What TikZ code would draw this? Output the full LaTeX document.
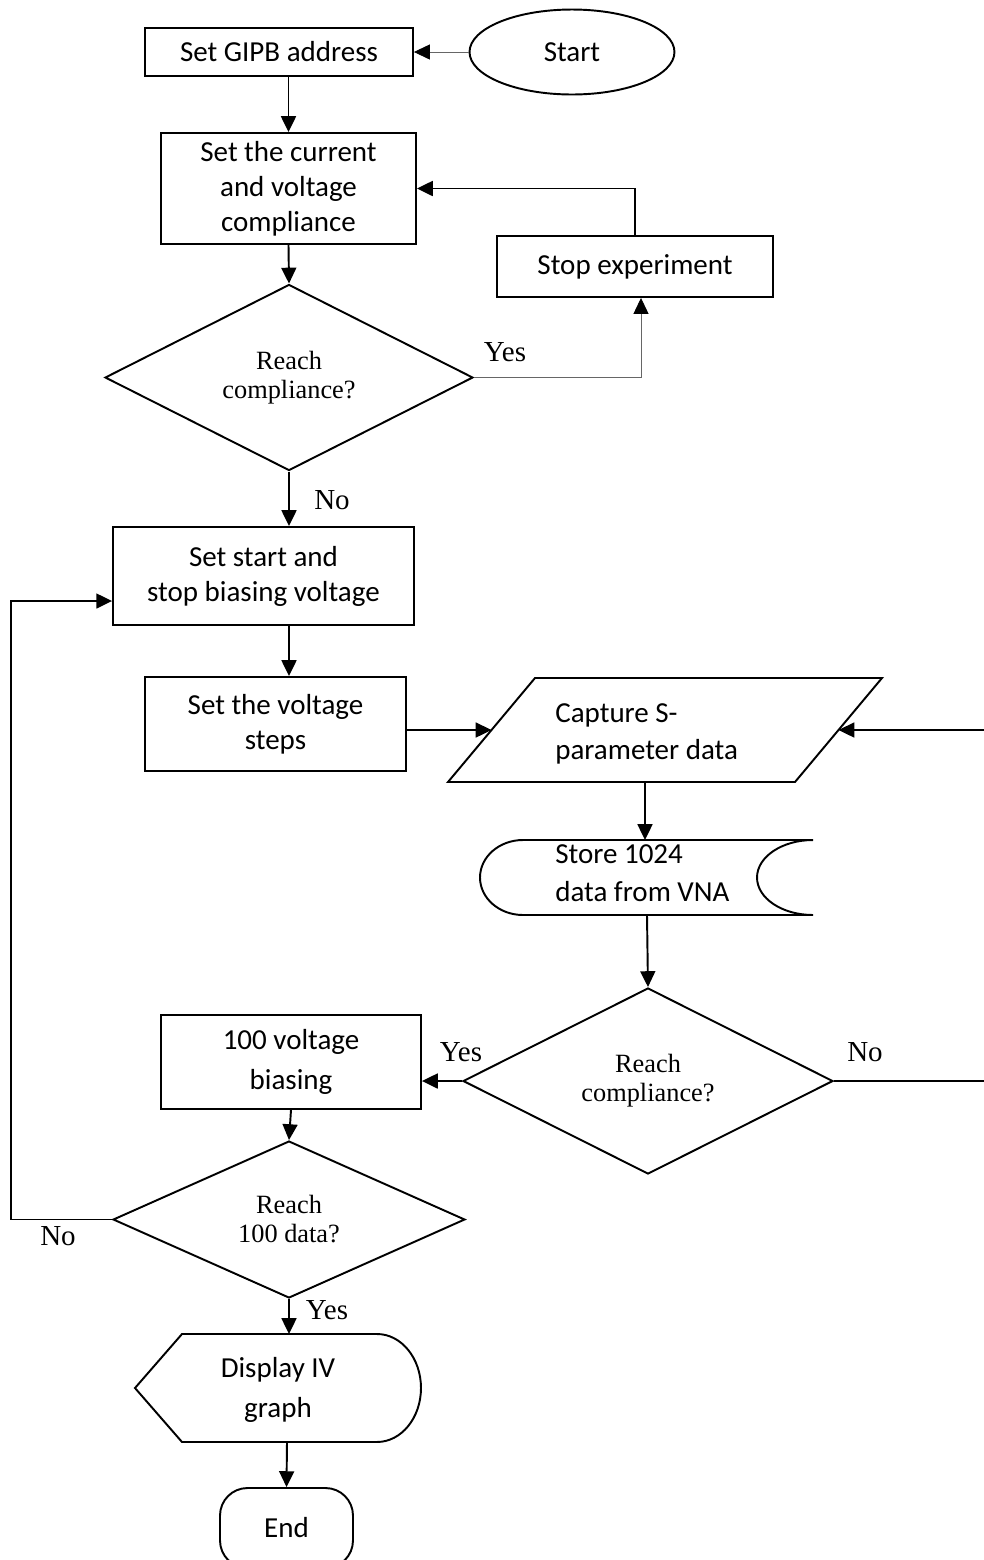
\documentclass[tikz,border=0pt]{standalone}
\usepackage{fontspec}
\setmainfont{Carlito}
\newfontfamily\timesfont{Liberation Serif}
\usetikzlibrary{arrows.meta,shapes.geometric,calc}
\tikzset{
	box/.style={draw, line width=1.1pt, align=center, inner sep=2pt,
		font=\fontsize{16.5}{19.9}\selectfont},
	wide lines/.style={font=\fontsize{16.5}{22.5}\selectfont},
	decision/.style={draw, diamond, line width=1.1pt, inner sep=0, align=center,
		font=\timesfont\fontsize{15}{16.5}\selectfont},
	lab/.style={inner sep=0, font=\timesfont\fontsize{16.5}{18}\selectfont},
	txt/.style={inner sep=0, align=left, font=\fontsize{16.5}{21.5}\selectfont},
	outline/.style={line width=1.1pt},
	flow/.style={->, line width=1.1pt},
	thin flow/.style={->, line width=0.5pt, draw=black!60}
}

\begin{document}
\begin{tikzpicture}[x=0.02cm, y=-0.02cm,
		>={Triangle[length=9pt,width=8.5pt,color=black]}]
	\useasboundingbox (0,0) rectangle (984,1560);
	% upper part
	\node[draw, ellipse, line width=1.1pt, minimum width=4.1cm, minimum height=1.7cm,
		font=\fontsize{16.5}{20}\selectfont] (start) at (572,52) {Start};
	\node[box, minimum width=5.36cm, minimum height=0.96cm] (gipb) at (279,52) {Set GIPB address};
	\node[box, minimum width=5.1cm, minimum height=2.22cm] (compl) at (288.5,188.5) {Set the current\\and voltage\\compliance};
	\node[box, minimum width=5.52cm, minimum height=1.22cm] (stop) at (635,266.5) {Stop experiment};
	\node[decision, minimum width=7.36cm, minimum height=3.26cm] (reach1) at (289,377.5) {Reach\\compliance?};
	\node[box, minimum width=6.02cm, minimum height=1.96cm] (bias) at (263.5,576) {Set start and\\stop biasing voltage};
	\node[box, minimum width=5.22cm, minimum height=1.88cm] (steps) at (275.5,724) {Set the voltage\\steps};
	% capture and store
	\draw[outline] (535,678) -- (882,678) -- (795,782) -- (448,782) -- cycle;
	\coordinate (capL) at (491.5,730);
	\coordinate (capR) at (838.5,730);
	\coordinate (capB) at (645,782);
	\node[txt, anchor=west] (capture) at (555,734) {Capture S-\\parameter data};
	\draw[outline] (813,840) -- (523,840)
		arc[start angle=90, end angle=270, x radius=0.86cm, y radius=0.75cm] -- (813,915)
		arc[start angle=270, end angle=90, x radius=1.12cm, y radius=0.75cm];
	\coordinate (storeT) at (645,840);
	\coordinate (storeB) at (647,915);
	\node[txt, anchor=west] (store) at (555,873) {Store 1024\\data from VNA};
	% lower part
	\node[decision, minimum width=7.4cm, minimum height=3.24cm] (reach2) at (648,1081) {Reach\\compliance?};
	\node[box, wide lines, minimum width=5.2cm, minimum height=1.88cm] (hundred) at (291,1062) {100 voltage\\biasing};
	\node[decision, minimum width=7.04cm, minimum height=3.14cm] (reach3) at (289,1219.5) {Reach\\100 data?};
	\draw[outline] (135,1388) -- (182,1334) -- (377,1334)
		arc[start angle=90, end angle=-90, x radius=0.88cm, y radius=1.08cm] -- (182,1442) -- cycle;
	\coordinate (dispT) at (289,1334);
	\coordinate (dispB) at (287,1442);
	\node[txt, wide lines, align=center] (display) at (278,1390) {Display IV\\graph};
	\node[box, rounded corners=0.55cm, minimum width=2.66cm, minimum height=1.6cm] (end) at (286.5,1528) {End};
	\coordinate (loopR) at (990,1081);
	\coordinate (loopL) at (11,1219.5);

	% connectors
	\draw[thin flow] (start) -- (gipb);
	\draw[flow] (compl.north |- gipb.south) -- (compl.north);
	\draw[flow] (compl.south) -- (reach1.north);
	\draw[flow] (stop.north) |- (compl.east);
	\draw[thin flow] (reach1.east) -| ($(stop.south)+(6,0)$);
	\draw[flow] (reach1.south) -- (reach1.south |- bias.north);
	\draw[flow] (bias.south -| reach1.south) -- (steps.north -| reach1.south);
	\draw[flow] (steps.east |- capL) -- (capL);
	\draw[flow] (capB) -- (storeT);
	\draw[flow] (storeB) -- (reach2.north);
	\draw[flow] (reach2.west) -- (hundred.east |- reach2.west);
	\draw[flow] (reach2.east) -- (loopR) |- (capR);
	\draw[flow] (hundred.south) -- (reach3.north);
	\draw[flow] (reach3.west) -- (loopL) |- ($(bias.west)+(0,25)$);
	\draw[flow] (reach3.south) -- (dispT);
	\draw[flow] (dispB) -- (end.north);
	% labels
	\node[lab] (yes1) at (505,352) {Yes};
	\node[lab] (no1) at (332,500) {No};
	\node[lab] (yes2) at (461,1052) {Yes};
	\node[lab] (no2) at (865,1052) {No};
	\node[lab] (no3) at (58,1236) {No};
	\node[lab] (yes3) at (327,1310) {Yes};
\end{tikzpicture}
\end{document}
